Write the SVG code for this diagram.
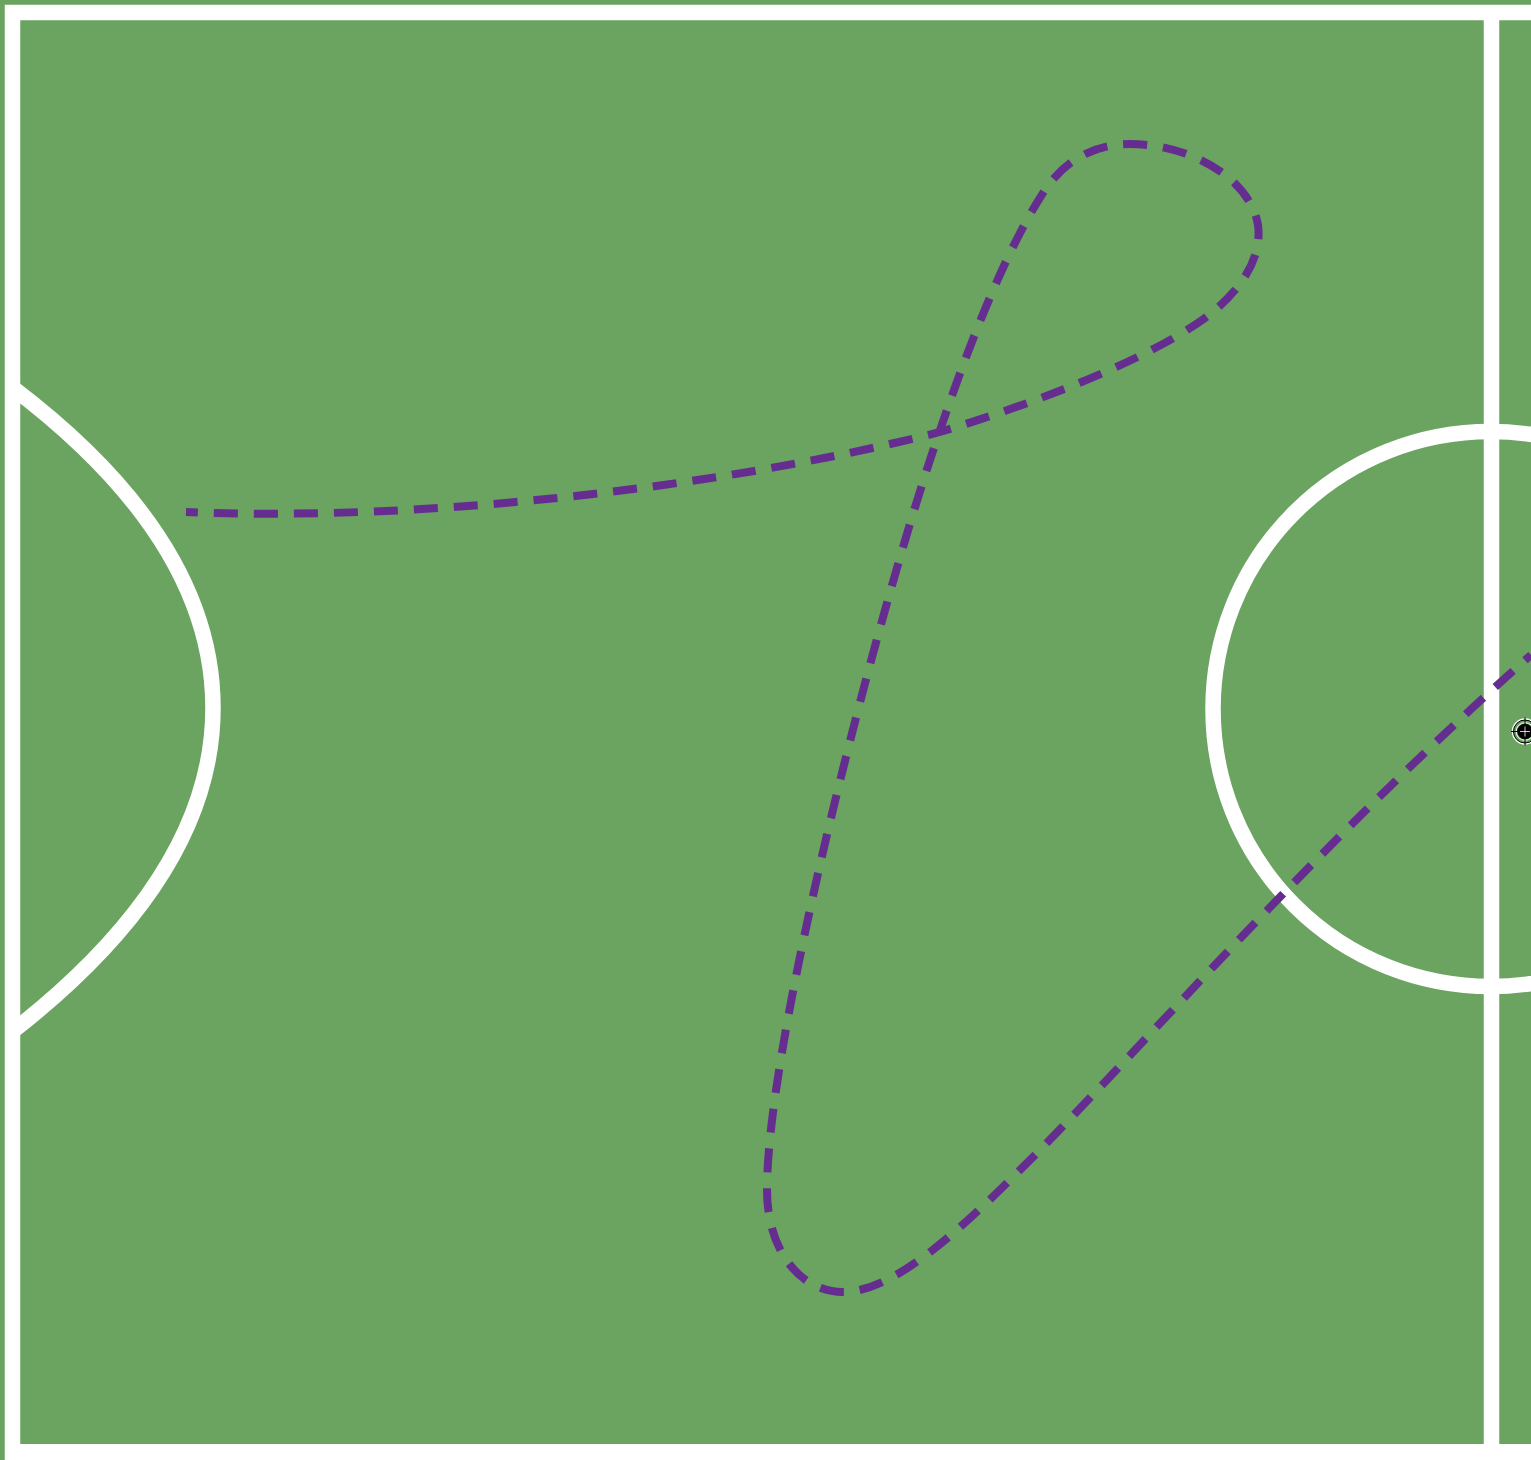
<svg xmlns="http://www.w3.org/2000/svg" width="1531" height="1460" viewBox="0 0 1531 1460">
<style>
.line{fill:none;stroke:#fff;stroke-width:15.500}
.run{fill:none;stroke:#662d91;stroke-width:8;stroke-dasharray:24 16;stroke-dashoffset:12}
.ring{fill:none}
</style>
<rect id="pitch" width="1531" height="1460" fill="#6ba360"/>
<g id="markings">
<path class="line" d="M12.500 1460V12.500H1531"/>
<rect x="5" y="1444" width="1526" height="16" fill="#fff"/>
<path class="line" d="M1491.500 12.500V1450"/>
<circle class="line" cx="1490.500" cy="709" r="277.500"/>
<path class="line" d="M13 388C150 492 213 600 213 708C213 816 150 924 13 1031"/>
</g>
<g id="connectors">
<path class="run" d="M186 512C420 522 720 488 940 432C1040 402 1150 358 1205 318C1245 288 1262 255 1258 225C1250 178 1190 144 1130 144C1095 144 1065 160 1045 190C1005 250 965 355 935 445C876 620 767 1040 767 1190C767 1250 800 1292 843 1292C900 1292 975 1215 1040 1150C1110 1078 1190 990 1280 897C1350 825 1440 735 1531 655"/>
</g>
<g id="target">
<circle class="ring" cx="1525" cy="731.500" r="12.500" stroke="#fff" stroke-width="1.500"/>
<circle class="ring" cx="1525" cy="731.500" r="11.500" stroke="#000" stroke-width="1"/>
<circle class="ring" cx="1525" cy="731.500" r="8.800" stroke="#fff" stroke-width="1"/>
<circle cx="1525" cy="731.500" r="7.800" fill="#000"/>
<path d="M1511 731.500H1539M1525 717.500V745.500" stroke="#000" stroke-width="1"/>
<path d="M1520 731.500H1530M1525 726.500V736.500" stroke="#fff" stroke-width="0.800"/>
</g>
</svg>
